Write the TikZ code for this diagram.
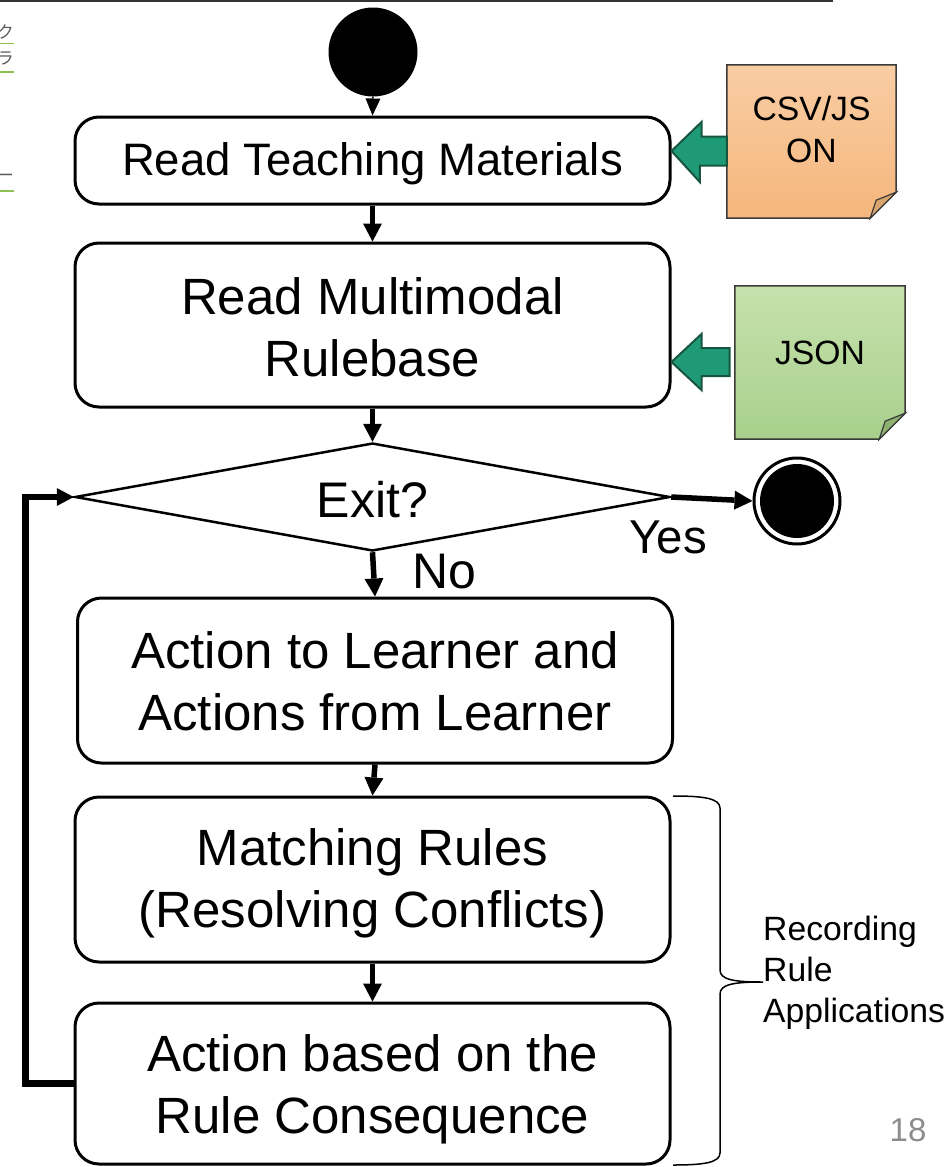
\documentclass[tikz,border=0pt]{standalone}
\usepackage{fontspec}
\setmainfont{Liberation Sans}
\newfontfamily\jpfont{Noto Sans CJK JP}
\usetikzlibrary{arrows.meta,shapes.geometric,calc}
\pgfdeclarelayer{bg}
\pgfsetlayers{bg,main}

\definecolor{csvtop}{HTML}{F9CDA4}
\definecolor{csvbot}{HTML}{F5B67C}
\definecolor{csvfold}{HTML}{D9A46E}
\definecolor{jsontop}{HTML}{C6E1AD}
\definecolor{jsonbot}{HTML}{A8D08C}
\definecolor{jsonfold}{HTML}{8DB26F}
\definecolor{notedraw}{HTML}{3A3A3A}
\definecolor{blockfill}{HTML}{1F9A77}
\definecolor{blockdraw}{HTML}{17553F}
\definecolor{pagegray}{HTML}{8C8C8C}
\definecolor{linkgreen}{HTML}{8CC152}
\definecolor{linkgray}{HTML}{5A5A5A}

\begin{document}
\begin{tikzpicture}[x=1pt,y=-1pt,
  flowbox/.style={draw, line width=3pt, rounded corners=24pt, minimum width=595pt, inner sep=0pt},
  boxtext/.style={align=center, inner sep=0pt, font=\fontsize{51}{62}\selectfont},
  startarrow/.style={line width=1.5pt, -{Triangle[length=17pt,width=15pt,line width=0pt]}},
  flow/.style={line width=5.5pt, -{Triangle[length=18pt,width=19pt,line width=0pt]}},
  notetext/.style={font=\fontsize{33.7}{42}\selectfont, align=center},
  notebox/.style={minimum width=#1, minimum height=153pt, inner sep=0pt},
  blockarrow/.style={fill=blockfill, draw=blockdraw, line width=2pt, line join=miter},
  bigtext/.style={font=\fontsize{50}{60}\selectfont, inner sep=0pt},
  sidetext/.style={anchor=east, inner sep=0pt, text=linkgray, font=\jpfont\fontsize{17}{17}\selectfont}
]
\useasboundingbox (0,0) rectangle (951,1167);

% slide header rule and cut-off sidebar entries
\draw[line width=2pt, black!80] (0,1) -- (833,1);
\node[sidetext] (side1) at (14,32) {ク};
\node[sidetext] (side2) at (14,59) {ラ};
\node[sidetext] (side3) at (14,178) {ー};
\draw[linkgreen, line width=1.5pt] (0,43.5) -- (14,43.5);
\draw[linkgreen, line width=1.5pt] (0,72) -- (14,72);
\draw[linkgreen, line width=1.5pt] (0,191) -- (14,191);

% flow nodes
\node[circle, fill=black, minimum size=89pt, inner sep=0pt] (start) at (373,52) {};
\node[flowbox, minimum height=87pt,
  label={[boxtext, font=\fontsize{45.5}{54}\selectfont, yshift=-3pt]center:Read Teaching Materials}] (b1) at (372.5,160.5) {};
\node[flowbox, minimum height=164pt,
  label={[boxtext, yshift=-2pt]center:Read Multimodal\\Rulebase}] (b2) at (372.5,325) {};
\node[diamond, draw, line width=2.5pt, minimum width=595pt, minimum height=108pt, inner sep=0pt,
  label={[bigtext, yshift=-3pt]center:Exit?}] (exit) at (372.5,497) {};
\node[flowbox, minimum height=165pt,
  label={[boxtext, yshift=-1pt]center:Action to Learner and\\Actions from Learner}] (b3) at (375,680.5) {};
\node[flowbox, minimum height=165pt,
  label={[boxtext, yshift=-4pt]center:Matching Rules\\(Resolving Conflicts)}] (b4) at (372.5,879.5) {};
\node[flowbox, minimum height=161pt,
  label={[boxtext, yshift=-6pt]center:Action based on the\\Rule Consequence}] (b5) at (372.5,1083.5) {};
\node[circle, draw, line width=3pt, minimum size=86pt, inner sep=0pt] (end) at (797,501) {};
\fill (end.center) circle[radius=37];

% branch labels
\node[bigtext, font=\fontsize{47.5}{57}\selectfont] (yes) at (668,537) {Yes};
\node[bigtext] (no) at (444,572) {No};

% data files
\node[notebox=169pt, label={[notetext, yshift=12pt]center:CSV/JS\\ON}] (csv) at (811.5,141.5) {};
\node[notebox=170pt, label={[notetext, yshift=10pt]center:JSON}] (json) at (820,362.5) {};

\begin{pgfonlayer}{bg}
\shade[top color=csvtop, bottom color=csvbot, draw=notedraw, line width=1.5pt]
  (csv.north west) -- (csv.north east) -- ($(csv.south east)+(0,-26)$)
  -- ($(csv.south east)+(-26,0)$) -- (csv.south west) -- cycle;
\filldraw[fill=csvfold, draw=notedraw, line width=1.2pt]
  ($(csv.south east)+(-26,0)$) -- ($(csv.south east)+(0,-26)$) -- ($(csv.south east)+(-20,-18)$) -- cycle;
\shade[top color=jsontop, bottom color=jsonbot, draw=notedraw, line width=1.5pt]
  (json.north west) -- (json.north east) -- ($(json.south east)+(0,-26)$)
  -- ($(json.south east)+(-26,0)$) -- (json.south west) -- cycle;
\filldraw[fill=jsonfold, draw=notedraw, line width=1.2pt]
  ($(json.south east)+(-26,0)$) -- ($(json.south east)+(0,-26)$) -- ($(json.south east)+(-20,-18)$) -- cycle;
\end{pgfonlayer}

% block arrows from the data files
\draw[blockarrow] (b1.east |- 0,151) -- ++(30,-29) -- ++(0,14.5) -- (csv.west |- 0,136.5)
  -- (csv.west |- 0,165.5) -- ++(-27,0) -- ++(0,16.5) -- cycle;
\draw[blockarrow] (b2.east |- 0,362) -- ++(30,-28) -- ++(0,14) -- ++(28,0)
  -- ++(0,28) -- ++(-28,0) -- ++(0,14) -- cycle;

% connectors
\draw[startarrow] (start.south) -- (b1.north);
\draw[flow] (b1.south) -- (b2.north);
\draw[flow] (b2.south) -- (exit.north);
\draw[flow] (exit.east) -- (end.west);
\draw[flow] (exit.south) -- (b3.north);
\draw[flow] (b3.south) -- (b4.north);
\draw[flow] (b4.south) -- (b5.north);
\draw[flow, line width=6.5pt, -{Triangle[length=17pt,width=18pt,line width=0pt]}]
  (b5.west) -- ++(-48,0) |- (exit.west);

% recording brace and its label
\coordinate (bracetip) at (763,982);
\draw[line width=1.5pt] (673,796) .. controls (702,796) and (720,798) .. (720,808)
  -- (720,970) .. controls (720,980) and (735,982) .. (bracetip)
  .. controls (735,982) and (720,984) .. (720,994)
  -- (720,1153) .. controls (720,1163) and (702,1165) .. (673,1165);
\node[anchor=west, align=left, inner sep=0pt, font=\fontsize{33.7}{41}\selectfont] (rec) at (763,973)
  {Recording\\Rule\\Applications};

% slide number
\node[text=pagegray, inner sep=0pt, font=\fontsize{33}{40}\selectfont] (pageno) at (908,1130) {18};
\end{tikzpicture}
\end{document}
